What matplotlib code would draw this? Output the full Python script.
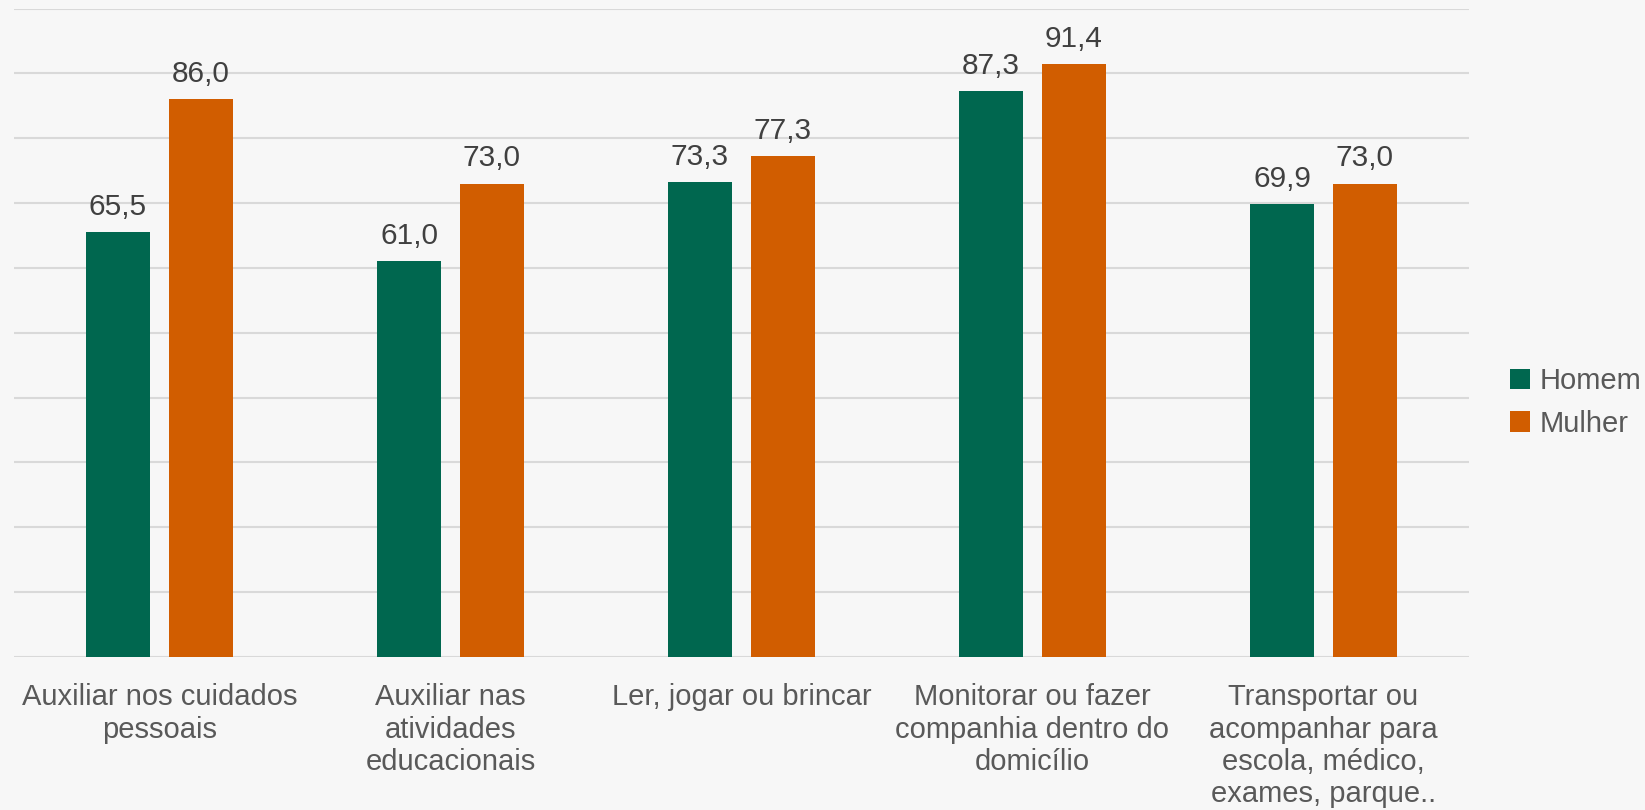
import numpy as np
import matplotlib.pyplot as plt

plt.rcParams['font.family'] = ['Liberation Sans', 'DejaVu Sans']

categorias = ['Auxiliar nos cuidados\npessoais',
              'Auxiliar nas\natividades\neducacionais',
              'Ler, jogar ou brincar',
              'Monitorar ou fazer\ncompanhia dentro do\ndomicílio',
              'Transportar ou\nacompanhar para\nescola, médico,\nexames, parque..']
homem = [65.5, 61.0, 73.3, 87.3, 69.9]
mulher = [86.0, 73.0, 77.3, 91.4, 73.0]

cor_homem = '#00674F'
cor_mulher = '#D15D00'
fundo = '#F7F7F7'

fig = plt.figure(figsize=(16.45, 8.1), dpi=100, facecolor=fundo)
ax = fig.add_axes([0.0085, 0.189, 0.8845, 0.8005])
ax.set_facecolor(fundo)

x = np.arange(len(categorias))
w = 0.223
off = 0.1425

b1 = ax.bar(x - off, homem, w, color=cor_homem, label='Homem', zorder=3)
b2 = ax.bar(x + off, mulher, w, color=cor_mulher, label='Mulher', zorder=3)

for barras in (b1, b2):
    for r in barras:
        v = r.get_height()
        ax.annotate(f'{v:.1f}'.replace('.', ','),
                    (r.get_x() + r.get_width() / 2, v),
                    xytext=(0, 8), textcoords='offset points',
                    ha='center', va='bottom', fontsize=21.5, color='#404040')

ax.set_xlim(-0.5, len(categorias) - 0.5)
ax.set_ylim(0, 100)
ax.set_yticks(np.arange(0, 101, 10))
ax.set_yticklabels([])
ax.tick_params(axis='y', length=0)
ax.grid(axis='y', color='#D9D9D9', linewidth=1.5, zorder=0)
ax.set_xticks(x)
ax.set_xticklabels(categorias, fontsize=21, color='#595959', linespacing=1.2)
ax.tick_params(axis='x', length=0, pad=19)
for s in ax.spines.values():
    s.set_visible(False)

fig.legend(loc='center left', bbox_to_anchor=(0.902, 0.503), frameon=False,
           fontsize=21, labelcolor='#595959', handlelength=0.7,
           handleheight=0.7, handletextpad=0.3, labelspacing=0.5)

fig.savefig('out.png', dpi=100, facecolor=fundo)
